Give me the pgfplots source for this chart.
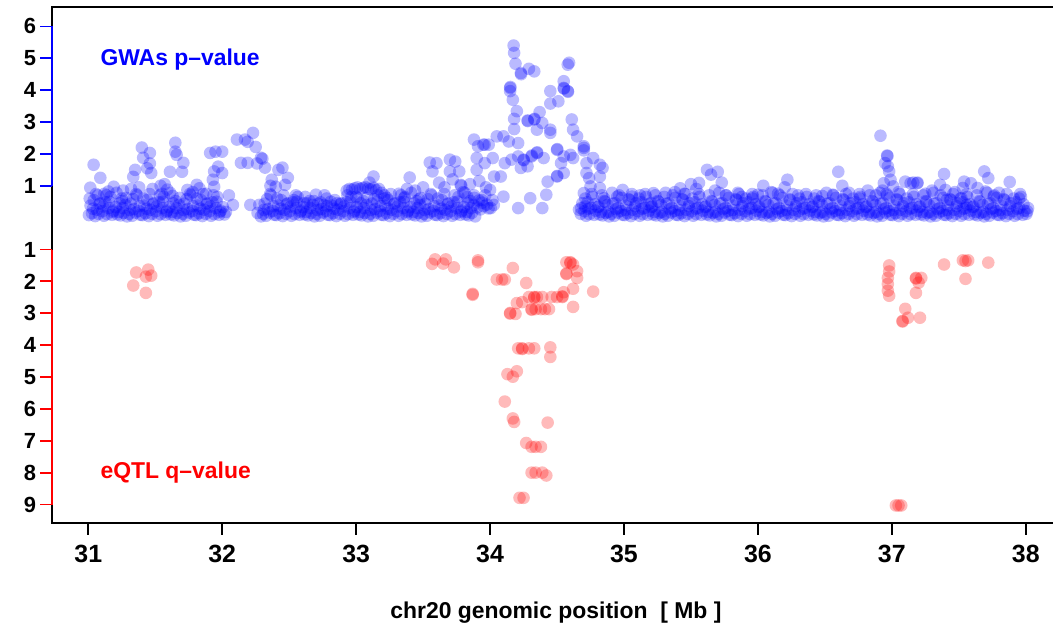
\documentclass[border=0pt]{standalone}
\usepackage{pgfplots}
\pgfplotsset{compat=1.18}
\usepackage{fontspec}
\setmainfont{Liberation Sans}
\definecolor{gblue}{RGB}{0,0,255}
\definecolor{qred}{RGB}{255,0,0}
\pgfplotsset{
  gw/.style={only marks, mark=*, mark size=6.3bp, mark options={draw=gblue, draw opacity=0, fill=gblue, fill opacity=0.27}},
  eq/.style={only marks, mark=*, mark size=6.3bp, mark options={draw=qred, draw opacity=0, fill=qred, fill opacity=0.27}},
}
\begin{document}
\begin{tikzpicture}[x=1bp,y=1bp]
\useasboundingbox (0,0) rectangle (1053,625);
\begin{axis}[
  at={(51.7bp,102bp)}, anchor=south west,
  scale only axis, width=1008.3bp, height=516bp,
  xmin=30.727, xmax=38.256, ymin=-9.58, ymax=6.61,
  axis line style={line width=2bp},
  tick align=outside, major tick length=12bp,
  tick style={line width=1.8bp, black},
  xtick pos=bottom, ytick pos=left,
  xtick={31,32,33,34,35,36,37,38},
  ytick={-9,-8,-7,-6,-5,-4,-3,-2,-1,1,2,3,4,5,6},
  yticklabels={9,8,7,6,5,4,3,2,1,1,2,3,4,5,6},
  ytick style={draw=none},
  /pgf/number format/assume math mode=true,
  xticklabel style={font=\bfseries\fontsize{25}{25}\selectfont, yshift=-7bp},
  yticklabel style={font=\bfseries\fontsize{22}{22}\selectfont},
  xlabel={chr20 genomic position\ \ [ Mb ]},
  xlabel style={font=\bfseries\fontsize{23}{23}\selectfont, at={(axis description cs:0.5,0)}, anchor=base, yshift=-95.3bp},
  clip=false,
]
% ---------------- GWAS baseline ----------------
\addplot[gw] coordinates {
(31.005,0.08) (31.017,0.38) (31.028,0.14) (31.041,0.55) (31.052,0.05) (31.064,0.25) (31.077,0.12) (31.089,0.45)
(31.105,0.20) (31.117,0.06) (31.128,0.48) (31.141,0.11) (31.152,0.30) (31.164,0.65) (31.177,0.09) (31.189,0.22)
(31.205,0.33) (31.217,0.10) (31.228,0.18) (31.241,0.07) (31.252,0.52) (31.264,0.15) (31.277,0.40) (31.289,0.04)
(31.305,0.12) (31.317,0.44) (31.328,0.06) (31.341,0.27) (31.352,0.16) (31.364,0.70) (31.377,0.21) (31.389,0.09)
(31.405,0.08) (31.417,0.38) (31.428,0.14) (31.441,0.55) (31.452,0.05) (31.464,0.25) (31.477,0.12) (31.489,0.45)
(31.505,0.20) (31.517,0.06) (31.528,0.48) (31.541,0.11) (31.552,0.30) (31.564,0.65) (31.577,0.09) (31.589,0.22)
(31.605,0.33) (31.617,0.10) (31.628,0.18) (31.641,0.07) (31.652,0.52) (31.664,0.15) (31.677,0.40) (31.689,0.04)
(31.705,0.12) (31.717,0.44) (31.728,0.06) (31.741,0.27) (31.752,0.16) (31.764,0.70) (31.777,0.21) (31.789,0.09)
(31.805,0.08) (31.817,0.38) (31.828,0.14) (31.841,0.55) (31.852,0.05) (31.864,0.25) (31.877,0.12) (31.889,0.45)
(31.905,0.20) (31.917,0.06) (31.928,0.48) (31.941,0.11) (31.952,0.30) (31.964,0.65) (31.977,0.09) (31.989,0.22)
(32.005,0.33) (32.017,0.10) (32.028,0.18)
(32.264,0.15) (32.277,0.40) (32.289,0.04)
(32.305,0.12) (32.317,0.44) (32.328,0.06) (32.341,0.27) (32.352,0.16) (32.364,0.70) (32.377,0.21) (32.389,0.09)
(32.405,0.08) (32.417,0.38) (32.428,0.14) (32.441,0.55) (32.452,0.05) (32.464,0.25) (32.477,0.12) (32.489,0.45)
(32.505,0.20) (32.517,0.06) (32.528,0.48) (32.541,0.11) (32.552,0.30) (32.564,0.65) (32.577,0.09) (32.589,0.22)
(32.605,0.33) (32.617,0.10) (32.628,0.18) (32.641,0.07) (32.652,0.52) (32.664,0.15) (32.677,0.40) (32.689,0.04)
(32.705,0.12) (32.717,0.44) (32.728,0.06) (32.741,0.27) (32.752,0.16) (32.764,0.70) (32.777,0.21) (32.789,0.09)
(32.805,0.08) (32.817,0.38) (32.828,0.14) (32.841,0.55) (32.852,0.05) (32.864,0.25) (32.877,0.12) (32.889,0.45)
(32.905,0.20) (32.917,0.06) (32.928,0.48) (32.941,0.11) (32.952,0.30) (32.964,0.65) (32.977,0.09) (32.989,0.22)
(33.005,0.33) (33.017,0.10) (33.028,0.18) (33.041,0.07) (33.052,0.52) (33.064,0.15) (33.077,0.40) (33.089,0.04)
(33.105,0.12) (33.117,0.44) (33.128,0.06) (33.141,0.27) (33.152,0.16) (33.164,0.70) (33.177,0.21) (33.189,0.09)
(33.205,0.08) (33.217,0.38) (33.228,0.14) (33.241,0.55) (33.252,0.05) (33.264,0.25) (33.277,0.12) (33.289,0.45)
(33.305,0.20) (33.317,0.06) (33.328,0.48) (33.341,0.11) (33.352,0.30) (33.364,0.65) (33.377,0.09) (33.389,0.22)
(33.405,0.33) (33.417,0.10) (33.428,0.18) (33.441,0.07) (33.452,0.52) (33.464,0.15) (33.477,0.40) (33.489,0.04)
(33.505,0.12) (33.517,0.44) (33.528,0.06) (33.541,0.27) (33.552,0.16) (33.564,0.70) (33.577,0.21) (33.589,0.09)
(33.605,0.08) (33.617,0.38) (33.628,0.14) (33.641,0.55) (33.652,0.05) (33.664,0.25) (33.677,0.12) (33.689,0.45)
(33.705,0.20) (33.717,0.06) (33.728,0.48) (33.741,0.11) (33.752,0.30) (33.764,0.65) (33.777,0.09) (33.789,0.22)
(33.805,0.33) (33.817,0.10) (33.828,0.18) (33.841,0.07) (33.852,0.52) (33.864,0.15) (33.877,0.40) (33.889,0.04)
(33.905,0.32) (33.917,0.54) (33.928,0.26) (33.941,0.47) (33.952,0.36) (33.964,0.70) (33.977,0.41) (33.989,0.29)
(34.005,0.30) (34.017,0.55) (34.028,0.40)
(34.664,0.25) (34.677,0.12) (34.689,0.45)
(34.705,0.20) (34.717,0.06) (34.728,0.48) (34.741,0.11) (34.752,0.30) (34.764,0.65) (34.777,0.09) (34.789,0.22)
(34.805,0.33) (34.817,0.10) (34.828,0.18) (34.841,0.07) (34.852,0.52) (34.864,0.15) (34.877,0.40) (34.889,0.04)
(34.905,0.12) (34.917,0.44) (34.928,0.06) (34.941,0.27) (34.952,0.16) (34.964,0.70) (34.977,0.21) (34.989,0.09)
(35.005,0.08) (35.017,0.38) (35.028,0.14) (35.041,0.55) (35.052,0.05) (35.064,0.25) (35.077,0.12) (35.089,0.45)
(35.105,0.20) (35.117,0.06) (35.128,0.48) (35.141,0.11) (35.152,0.30) (35.164,0.65) (35.177,0.09) (35.189,0.22)
(35.205,0.33) (35.217,0.10) (35.228,0.18) (35.241,0.07) (35.252,0.52) (35.264,0.15) (35.277,0.40) (35.289,0.04)
(35.305,0.12) (35.317,0.44) (35.328,0.06) (35.341,0.27) (35.352,0.16) (35.364,0.70) (35.377,0.21) (35.389,0.09)
(35.405,0.08) (35.417,0.38) (35.428,0.14) (35.441,0.55) (35.452,0.05) (35.464,0.25) (35.477,0.12) (35.489,0.45)
(35.505,0.20) (35.517,0.06) (35.528,0.48) (35.541,0.11) (35.552,0.30) (35.564,0.65) (35.577,0.09) (35.589,0.22)
(35.605,0.33) (35.617,0.10) (35.628,0.18) (35.641,0.07) (35.652,0.52) (35.664,0.15) (35.677,0.40) (35.689,0.04)
(35.705,0.12) (35.717,0.44) (35.728,0.06) (35.741,0.27) (35.752,0.16) (35.764,0.70) (35.777,0.21) (35.789,0.09)
(35.805,0.08) (35.817,0.38) (35.828,0.14) (35.841,0.55) (35.852,0.05) (35.864,0.25) (35.877,0.12) (35.889,0.45)
(35.905,0.20) (35.917,0.06) (35.928,0.48) (35.941,0.11) (35.952,0.30) (35.964,0.65) (35.977,0.09) (35.989,0.22)
(36.005,0.33) (36.017,0.10) (36.028,0.18) (36.041,0.07) (36.052,0.52) (36.064,0.15) (36.077,0.40) (36.089,0.04)
(36.105,0.12) (36.117,0.44) (36.128,0.06) (36.141,0.27) (36.152,0.16) (36.164,0.70) (36.177,0.21) (36.189,0.09)
(36.205,0.08) (36.217,0.38) (36.228,0.14) (36.241,0.55) (36.252,0.05) (36.264,0.25) (36.277,0.12) (36.289,0.45)
(36.305,0.20) (36.317,0.06) (36.328,0.48) (36.341,0.11) (36.352,0.30) (36.364,0.65) (36.377,0.09) (36.389,0.22)
(36.405,0.33) (36.417,0.10) (36.428,0.18) (36.441,0.07) (36.452,0.52) (36.464,0.15) (36.477,0.40) (36.489,0.04)
(36.505,0.12) (36.517,0.44) (36.528,0.06) (36.541,0.27) (36.552,0.16) (36.564,0.70) (36.577,0.21) (36.589,0.09)
(36.605,0.08) (36.617,0.38) (36.628,0.14) (36.641,0.55) (36.652,0.05) (36.664,0.25) (36.677,0.12) (36.689,0.45)
(36.705,0.20) (36.717,0.06) (36.728,0.48) (36.741,0.11) (36.752,0.30) (36.764,0.65) (36.777,0.09) (36.789,0.22)
(36.805,0.33) (36.817,0.10) (36.828,0.18) (36.841,0.07) (36.852,0.52) (36.864,0.15) (36.877,0.40) (36.889,0.04)
(36.905,0.12) (36.917,0.44) (36.928,0.06) (36.941,0.27) (36.952,0.16) (36.964,0.70) (36.977,0.21) (36.989,0.09)
(37.005,0.08) (37.017,0.38) (37.028,0.14) (37.041,0.55) (37.052,0.05) (37.064,0.25) (37.077,0.12) (37.089,0.45)
(37.105,0.20) (37.117,0.06) (37.128,0.48) (37.141,0.11) (37.152,0.30) (37.164,0.65) (37.177,0.09) (37.189,0.22)
(37.205,0.33) (37.217,0.10) (37.228,0.18) (37.241,0.07) (37.252,0.52) (37.264,0.15) (37.277,0.40) (37.289,0.04)
(37.305,0.12) (37.317,0.44) (37.328,0.06) (37.341,0.27) (37.352,0.16) (37.364,0.70) (37.377,0.21) (37.389,0.09)
(37.405,0.08) (37.417,0.38) (37.428,0.14) (37.441,0.55) (37.452,0.05) (37.464,0.25) (37.477,0.12) (37.489,0.45)
(37.505,0.20) (37.517,0.06) (37.528,0.48) (37.541,0.11) (37.552,0.30) (37.564,0.65) (37.577,0.09) (37.589,0.22)
(37.605,0.33) (37.617,0.10) (37.628,0.18) (37.641,0.07) (37.652,0.52) (37.664,0.15) (37.677,0.40) (37.689,0.04)
(37.705,0.12) (37.717,0.44) (37.728,0.06) (37.741,0.27) (37.752,0.16) (37.764,0.70) (37.777,0.21) (37.789,0.09)
(37.805,0.08) (37.817,0.38) (37.828,0.14) (37.841,0.55) (37.852,0.05) (37.864,0.25) (37.877,0.12) (37.889,0.45)
(37.905,0.20) (37.917,0.06) (37.928,0.48) (37.941,0.11) (37.952,0.30) (37.964,0.65) (37.977,0.09) (37.989,0.22)
(38.005,0.12) (38.017,0.30)
};
% ---------------- GWAS baseline, upper scatter ----------------
\addplot[gw] coordinates {
(31.011,0.60) (31.035,0.28) (31.058,0.74) (31.083,0.42) (31.111,0.35) (31.135,0.70) (31.158,0.50) (31.183,0.18)
(31.211,0.78) (31.235,0.45) (31.258,0.30) (31.283,0.62) (31.311,0.24) (31.335,0.58) (31.358,0.74) (31.383,0.36)
(31.411,0.60) (31.435,0.28) (31.458,0.74) (31.483,0.42) (31.511,0.35) (31.535,0.70) (31.558,0.50) (31.583,0.18)
(31.611,0.78) (31.635,0.45) (31.658,0.30) (31.683,0.62) (31.711,0.24) (31.735,0.58) (31.758,0.74) (31.783,0.36)
(31.811,0.60) (31.835,0.28) (31.858,0.74) (31.883,0.42) (31.911,0.35) (31.935,0.70) (31.958,0.50) (31.983,0.18)
(32.311,0.24) (32.335,0.58) (32.358,0.74) (32.383,0.36) (32.411,0.60) (32.435,0.28) (32.458,0.70) (32.483,0.42)
(32.511,0.35) (32.535,0.55) (32.558,0.50) (32.583,0.18) (32.611,0.45) (32.635,0.45) (32.658,0.30) (32.683,0.52)
(32.711,0.24) (32.735,0.48) (32.758,0.40) (32.783,0.36) (32.811,0.50) (32.835,0.28) (32.858,0.45) (32.883,0.42)
(32.911,0.35) (32.935,0.70) (32.958,0.50) (32.983,0.18) (33.011,0.60) (33.035,0.45) (33.058,0.30) (33.083,0.62)
(33.111,0.24) (33.135,0.58) (33.158,0.50) (33.183,0.36) (33.211,0.60) (33.235,0.28) (33.258,0.74) (33.283,0.42)
(33.311,0.35) (33.335,0.70) (33.358,0.50) (33.383,0.18) (33.411,0.78) (33.435,0.45) (33.458,0.30) (33.483,0.62)
(33.511,0.24) (33.535,0.58) (33.558,0.74) (33.583,0.36) (33.611,0.60) (33.635,0.28) (33.658,0.74) (33.683,0.42)
(33.711,0.35) (33.735,0.70) (33.758,0.50) (33.783,0.18) (33.811,0.78) (33.835,0.45) (33.858,0.30) (33.883,0.62)
(34.711,0.60) (34.735,0.28) (34.758,0.74) (34.783,0.42) (34.811,0.35) (34.835,0.70) (34.858,0.50) (34.883,0.18)
(34.911,0.78) (34.935,0.45) (34.958,0.30) (34.983,0.62) (35.011,0.24) (35.035,0.58) (35.058,0.74) (35.083,0.36)
(35.111,0.60) (35.135,0.28) (35.158,0.74) (35.183,0.42) (35.211,0.35) (35.235,0.70) (35.258,0.50) (35.283,0.18)
(35.311,0.78) (35.335,0.45) (35.358,0.30) (35.383,0.62) (35.411,0.24) (35.435,0.58) (35.458,0.74) (35.483,0.36)
(35.511,0.60) (35.535,0.28) (35.558,0.74) (35.583,0.42) (35.611,0.35) (35.635,0.70) (35.658,0.50) (35.683,0.18)
(35.711,0.78) (35.735,0.45) (35.758,0.30) (35.783,0.62) (35.811,0.24) (35.835,0.58) (35.858,0.74) (35.883,0.36)
(35.911,0.60) (35.935,0.28) (35.958,0.74) (35.983,0.42) (36.011,0.35) (36.035,0.70) (36.058,0.50) (36.083,0.18)
(36.111,0.78) (36.135,0.45) (36.158,0.30) (36.183,0.62) (36.211,0.24) (36.235,0.58) (36.258,0.74) (36.283,0.36)
(36.311,0.60) (36.335,0.28) (36.358,0.74) (36.383,0.42) (36.411,0.35) (36.435,0.70) (36.458,0.50) (36.483,0.18)
(36.511,0.78) (36.535,0.45) (36.558,0.30) (36.583,0.62) (36.611,0.24) (36.635,0.58) (36.658,0.74) (36.683,0.36)
(36.711,0.60) (36.735,0.28) (36.758,0.74) (36.783,0.42) (36.811,0.35) (36.835,0.70) (36.858,0.50) (36.883,0.18)
(36.911,0.78) (36.935,0.45) (36.958,0.30) (36.983,0.62) (37.011,0.24) (37.035,0.58) (37.058,0.74) (37.083,0.36)
(37.111,0.60) (37.135,0.28) (37.158,0.74) (37.183,0.42) (37.211,0.35) (37.235,0.70) (37.258,0.50) (37.283,0.18)
(37.311,0.78) (37.335,0.45) (37.358,0.30) (37.383,0.62) (37.411,0.24) (37.435,0.58) (37.458,0.74) (37.483,0.36)
(37.511,0.60) (37.535,0.28) (37.558,0.74) (37.583,0.42) (37.611,0.35) (37.635,0.70) (37.658,0.50) (37.683,0.18)
(37.711,0.78) (37.735,0.45) (37.758,0.30) (37.783,0.62) (37.811,0.24) (37.835,0.58) (37.858,0.74) (37.883,0.36)
(37.911,0.60) (37.935,0.28) (37.958,0.74) (37.983,0.42) (38.011,0.20)
};
% ---------------- GWAS elevated ----------------
\addplot[gw] coordinates {
(31.040,1.66) (31.090,1.25) (31.015,0.94) (31.070,0.70) (31.190,0.97) (31.150,0.82) (31.260,0.85) (31.320,0.90)
(31.336,1.28) (31.350,1.50) (31.380,0.95) (31.400,2.20) (31.410,1.88) (31.460,2.03) (31.460,1.70) (31.470,1.40)
(31.440,1.55) (31.480,0.90) (31.250,0.60) (31.120,0.75)
(31.540,1.00) (31.570,1.05) (31.590,0.88) (31.610,1.44) (31.650,2.35) (31.650,2.07) (31.660,1.97) (31.710,1.72)
(31.700,1.44) (31.740,0.87) (31.780,0.80) (31.810,1.03) (31.830,0.92) (31.880,0.75) (31.910,2.03) (31.930,1.19)
(31.940,0.97) (31.940,1.45) (31.950,2.07) (32.000,2.07) (32.000,1.40) (31.970,1.60) (31.550,0.75) (31.630,0.68)
(32.080,0.40) (32.110,2.45) (32.170,2.45) (32.190,2.38) (32.230,2.66) (32.250,2.22) (32.140,1.72) (32.190,1.72)
(32.290,1.88) (32.300,1.85) (32.320,1.57) (32.370,1.19) (32.420,1.50) (32.450,1.57) (32.490,1.25) (32.470,1.03)
(32.210,0.40) (32.360,1.00) (32.400,0.97) (32.260,1.70) (32.050,0.70)
(32.550,0.70) (32.620,0.65) (32.700,0.72) (32.780,0.60)
(32.930,0.85) (32.950,0.90) (32.970,0.88) (32.990,0.92) (33.010,0.95) (33.030,0.90) (33.050,0.93) (33.070,0.96)
(33.090,0.91) (33.110,0.89) (33.130,0.94) (33.150,0.86) (33.170,0.90) (33.190,0.78) (33.210,0.70) (33.230,0.62)
(33.130,1.29) (33.100,1.10) (33.000,0.65)
(33.320,0.75) (33.360,0.62) (33.400,1.26) (33.440,0.85) (33.470,0.58) (33.500,0.95) (33.380,0.90)
(33.550,1.73) (33.570,1.45) (33.600,1.71) (33.620,1.10) (33.660,0.95) (33.700,1.82) (33.700,1.45) (33.720,1.20)
(33.740,1.76) (33.770,1.45) (33.780,1.03) (33.785,1.00) (33.800,0.80) (33.830,0.65) (33.850,1.05) (33.880,2.45)
(33.900,1.87) (33.900,1.50) (33.910,2.24) (33.920,1.15) (33.950,2.29) (33.960,2.29) (33.960,1.71) (33.970,0.95)
(33.990,2.29) (34.000,0.87) (34.020,1.87) (34.030,1.29) (34.050,2.55) (34.080,1.29) (34.100,2.55) (34.110,1.71)
(34.100,0.66) (33.880,0.70) (33.940,0.55)
(34.140,2.39) (34.150,4.07) (34.152,4.10) (34.150,3.97) (34.170,3.70) (34.176,5.40) (34.180,5.17) (34.190,4.83)
(34.200,3.34) (34.180,3.10) (34.180,2.78) (34.160,1.82) (34.210,2.34) (34.210,1.92) (34.230,4.54) (34.232,4.50)
(34.230,1.56) (34.210,0.30) (34.250,1.82) (34.252,1.80) (34.280,3.05) (34.282,3.03) (34.290,4.67) (34.280,1.61)
(34.300,0.61) (34.310,1.92) (34.312,1.95) (34.330,3.08) (34.332,3.10) (34.330,4.59) (34.350,2.03) (34.352,2.05)
(34.350,2.76) (34.370,3.31) (34.390,2.97) (34.390,0.30) (34.400,1.87) (34.420,0.72) (34.430,1.13) (34.450,3.97)
(34.450,3.58) (34.450,2.76) (34.450,2.66) (34.500,1.29) (34.502,1.31) (34.500,2.13) (34.502,2.15) (34.510,3.65)
(34.530,1.71) (34.550,4.07) (34.552,4.05) (34.550,4.28) (34.550,1.92) (34.550,1.40) (34.580,3.97) (34.582,3.95)
(34.580,4.80) (34.590,4.86) (34.600,1.97) (34.610,3.08) (34.620,2.76) (34.620,1.87) (34.650,2.55) (34.680,0.30)
(34.700,2.24) (34.700,2.11) (34.700,2.19) (34.700,0.77) (34.710,0.35) (34.720,1.71) (34.720,1.40) (34.740,1.24)
(34.750,0.98) (34.770,1.87) (34.820,1.66) (34.840,1.56) (34.820,1.29) (34.820,0.93) (34.850,0.61) (34.950,0.66)
(34.990,0.87) (35.060,0.66)
(35.120,0.70) (35.220,0.77) (35.200,0.46) (35.300,0.65) (35.380,0.80) (35.420,0.92) (35.450,0.75) (35.500,1.05)
(35.540,0.90) (35.560,1.09) (35.620,1.50) (35.650,1.35) (35.700,1.44) (35.730,1.10) (35.680,0.85) (35.760,0.70)
(35.850,0.78) (35.880,0.65) (35.960,0.60) (36.000,0.72) (36.040,1.00) (36.100,0.80) (36.150,0.75) (36.220,1.19)
(36.200,0.95) (36.300,0.70) (36.420,0.60) (36.480,0.68) (36.560,0.72) (36.600,1.44) (36.630,1.00) (36.680,0.78)
(36.760,0.60) (36.820,0.85) (36.880,0.70)
(36.915,2.57) (36.965,1.95) (36.967,1.93) (36.970,1.61) (36.980,1.45) (36.950,1.71) (36.990,1.19) (36.940,1.08)
(37.010,0.98) (37.140,1.08) (37.190,1.08) (37.192,1.10) (37.100,1.13) (37.160,1.10) (37.390,1.37) (37.400,0.87)
(37.360,1.03) (37.540,1.13) (37.590,1.08) (37.640,0.93) (37.690,1.45) (37.720,1.24) (37.880,1.12) (37.530,0.93)
(37.520,0.61) (37.410,0.56) (37.560,0.40) (37.700,0.82) (37.760,0.66) (36.930,0.85) (36.960,0.75) (37.050,0.80)
(37.250,0.75) (37.300,0.85) (37.470,0.80) (37.800,0.78) (37.950,0.60)
};
% ---------------- eQTL (plotted downward) ----------------
\addplot[eq] coordinates {
(31.336,-2.13) (31.358,-1.72) (31.430,-2.36) (31.430,-1.85) (31.448,-1.63) (31.470,-1.82)
(33.567,-1.45) (33.590,-1.31) (33.650,-1.44) (33.670,-1.31) (33.730,-1.56) (33.910,-1.34) (33.910,-1.40)
(34.050,-1.94) (34.090,-1.94) (34.110,-1.94) (34.170,-1.58) (34.270,-2.05) (33.870,-2.39) (33.870,-2.42)
(34.200,-2.68) (34.240,-2.65) (34.290,-2.49) (34.330,-2.49) (34.330,-2.51) (34.350,-2.49) (34.390,-2.49)
(34.460,-2.49) (34.500,-2.49) (34.540,-2.49) (34.540,-2.47) (34.550,-2.34) (34.620,-2.23) (34.770,-2.32)
(34.570,-1.77) (34.570,-1.75) (34.600,-1.40) (34.600,-1.42) (34.570,-1.40) (34.620,-1.47) (34.650,-1.68)
(34.650,-1.89) (34.620,-2.80) (34.150,-2.99) (34.150,-3.01) (34.190,-3.02) (34.310,-2.87) (34.310,-2.89)
(34.340,-2.87) (34.380,-2.87) (34.410,-2.87) (34.440,-2.87)
(34.210,-4.10) (34.240,-4.10) (34.240,-4.12) (34.290,-4.10) (34.330,-4.10) (34.450,-4.07) (34.450,-4.37)
(34.130,-4.91) (34.170,-4.99) (34.200,-4.82) (34.110,-5.77) (34.170,-6.30) (34.180,-6.41) (34.430,-6.43)
(34.270,-7.07) (34.310,-7.19) (34.340,-7.19) (34.380,-7.19) (34.310,-8.00) (34.340,-8.00) (34.390,-8.00)
(34.420,-8.09) (34.220,-8.79) (34.250,-8.79)
(36.980,-1.50) (36.980,-1.69) (36.970,-1.89) (36.970,-2.08) (36.970,-2.29) (36.980,-2.45) (37.180,-1.89)
(37.180,-1.91) (37.220,-1.89) (37.200,-2.04) (37.180,-2.36) (37.100,-2.86) (37.080,-3.24) (37.080,-3.26)
(37.120,-3.14) (37.210,-3.14) (37.390,-1.47) (37.530,-1.34) (37.550,-1.36) (37.570,-1.34) (37.550,-1.92)
(37.720,-1.41) (37.030,-9.03) (37.050,-9.03) (37.070,-9.03)
};
% coloured y axis segments and ticks
\draw[gblue, line width=2bp] (axis cs:30.727,1) -- (axis cs:30.727,6);
\pgfplotsinvokeforeach{1,2,3,4,5,6}{\draw[gblue, line width=1.8bp] (axis cs:30.727,#1) -- ([xshift=-11.7bp]axis cs:30.727,#1);}
\draw[qred, line width=2bp] (axis cs:30.727,-1) -- (axis cs:30.727,-9);
\pgfplotsinvokeforeach{-1,-2,-3,-4,-5,-6,-7,-8,-9}{\draw[qred, line width=1.8bp] (axis cs:30.727,#1) -- ([xshift=-11.7bp]axis cs:30.727,#1);}
\node[anchor=base west, text=gblue, font=\bfseries\fontsize{23}{23}\selectfont, inner sep=0pt] at (axis cs:31.09,4.78) {GWAs p--value};
\node[anchor=base west, text=qred, font=\bfseries\fontsize{23}{23}\selectfont, inner sep=0pt] at (axis cs:31.09,-8.18) {eQTL q--value};
\end{axis}
\end{tikzpicture}
\end{document}
